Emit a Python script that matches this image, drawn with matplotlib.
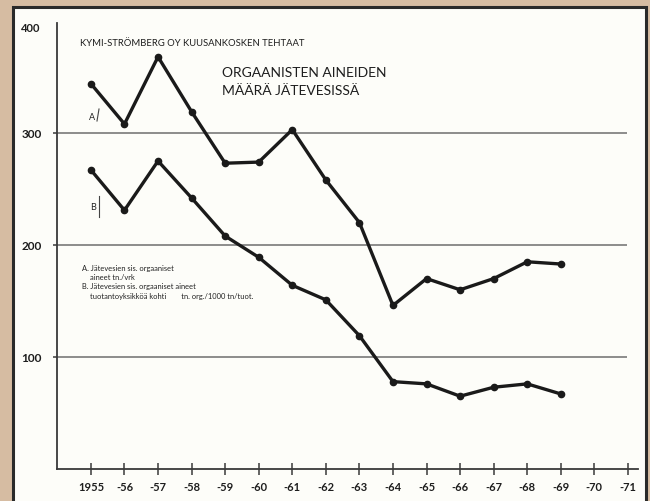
import matplotlib.pyplot as plt
from matplotlib.patches import Rectangle
from matplotlib.lines import Line2D

years = list(range(1955, 1970))
series_a = [344, 308, 368, 319, 273, 274, 303, 258, 220, 146, 170, 160, 170, 185, 183]
series_b = [267, 231, 275, 242, 208, 189, 164, 151, 119, 78, 76, 65, 73, 76, 67]
tick_years = list(range(1955, 1972))
tick_labels = ["1955"] + ["-%02d" % (y % 100) for y in tick_years[1:]]
grid_values = [100, 200, 300]

W, H = 650, 502
font = "Lato"


def px(x, y):
    # pixel coords (from top-left) -> figure fraction
    return x / W, 1 - y / H


fig = plt.figure(figsize=(6.5, 5.02), dpi=100)
fig.patch.set_facecolor("#d6bca2")

# paper sheet with dark frame
x0, y0 = px(13, 8)
fig.patches.append(Rectangle((x0, -0.05), 646 / W - x0, y0 + 0.05,
                             transform=fig.transFigure, facecolor="#fdfdf9",
                             edgecolor="#2a2a2a", linewidth=2.2, zorder=-5))

# axes: 0 -> y=470, 398 -> y=24 ; x from 57 to 638
ax = fig.add_axes([57 / W, (H - 470) / H, 581 / W, 445.8 / H])
ax.set_zorder(2)
ax.set_facecolor("none")
ax.set_xlim(1953.99, 1971.3)
ax.set_ylim(0, 398)

for s in ["top", "right"]:
    ax.spines[s].set_visible(False)
for s in ["left", "bottom"]:
    ax.spines[s].set_color("#3a3a3a")
    ax.spines[s].set_linewidth(1.3)

ax.hlines(grid_values, 1953.99, 1970.97, color="#6e6e6e", linewidth=1.1, zorder=1)

ax.plot(years, series_a, color="#1a1a1a", linewidth=2.4, marker="o",
        markersize=4.5, zorder=3)
ax.plot(years, series_b, color="#1a1a1a", linewidth=2.4, marker="o",
        markersize=4.5, zorder=3)

ax.set_xticks(tick_years)
ax.set_xticklabels(tick_labels, fontfamily=font, fontsize=8, color="#1e1e1e",
                   fontweight="bold")
ax.tick_params(axis="x", direction="inout", length=9, width=1.1,
               color="#3a3a3a", pad=4)
ax.set_yticks(grid_values)
ax.set_yticklabels([str(v) for v in grid_values], fontfamily=font,
                   fontsize=8.5, color="#1e1e1e", fontweight="bold")
ax.tick_params(axis="y", direction="out", length=3, width=1.1,
               color="#3a3a3a", pad=8)
ax.text(-0.028, 394, "400", transform=ax.get_yaxis_transform(),
        ha="right", va="center", fontfamily=font, fontsize=8,
        fontweight="bold", color="#1e1e1e")

# titles
fig.text(*px(80, 43), "KYMI-STRÖMBERG OY KUUSANKOSKEN TEHTAAT",
         fontfamily=font, fontsize=6.8, color="#1e1e1e", va="center")
fig.text(*px(222, 73), "ORGAANISTEN AINEIDEN", fontfamily=font,
         fontsize=10, color="#1e1e1e", va="center")
fig.text(*px(222, 91), "MÄÄRÄ JÄTEVESISSÄ", fontfamily=font,
         fontsize=10, color="#1e1e1e", va="center")

# series labels
fig.text(*px(92, 118), "A", fontfamily=font, fontsize=6.5, color="#222",
         ha="center", va="center")
fig.text(*px(93, 207), "B", fontfamily=font, fontsize=6.5, color="#222",
         ha="center", va="center")
for (xa, ya), (xb, yb) in [((97, 122), (99, 110)), ((99, 218), (99, 197))]:
    fa, fb = px(xa, ya), px(xb, yb)
    fig.lines.append(Line2D([fa[0], fb[0]], [fa[1], fb[1]],
                            transform=fig.transFigure, color="#444",
                            linewidth=0.8))

# notes
notes = [
    (82, 269, "A. Jätevesien sis. orgaaniset"),
    (90, 278, "aineet tn./vrk"),
    (82, 287, "B. Jätevesien sis. orgaaniset aineet"),
    (90, 296, "tuotantoyksikköä kohti        tn. org./1000 tn/tuot."),
]
for x, y, t in notes:
    fig.text(*px(x, y), t, fontfamily=font, fontsize=5.4, color="#222",
             va="center")

fig.savefig("out.png", dpi=100, facecolor=fig.get_facecolor())
